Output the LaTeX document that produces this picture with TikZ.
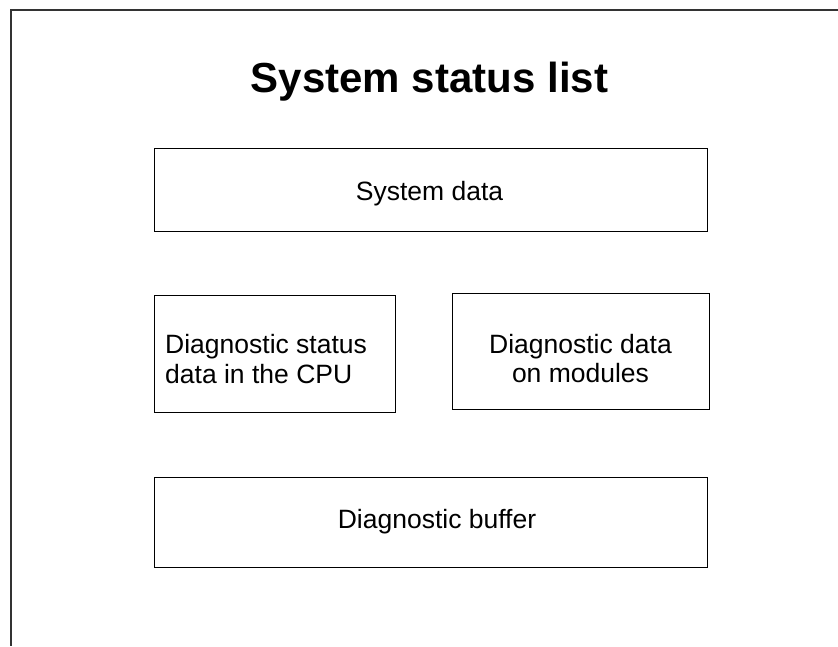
\documentclass[tikz,border=0pt]{standalone}
\usepackage{fontspec}
\setmainfont{Liberation Sans}
\begin{document}
\begin{tikzpicture}[x=1pt,y=-1pt,
  box/.style={draw=black, line width=1pt, inner sep=0pt, outer sep=0pt},
  bodytext/.style={inner sep=0pt, anchor=base, font=\fontsize{26.5}{30}\selectfont},
  titletext/.style={inner sep=0pt, anchor=base, font=\fontsize{42}{50}\selectfont\bfseries}]
\useasboundingbox (0,0) rectangle (838,646);
% outer frame
\coordinate (ftl) at (11,10);
\coordinate (ftr) at (838,10);
\coordinate (fbl) at (11,646);
\draw[line width=1.3pt, black!80] (ftr) -- (ftl) -- (fbl);
% title
\node[titletext] (title) at (429.5,92) {System status list};
% boxes
\node[box, minimum width=553pt, minimum height=83pt] (sysdata) at (430.5,189.5) {};
\node[box, minimum width=241pt, minimum height=117pt] (cpu) at (274.5,353.5) {};
\node[box, minimum width=257pt, minimum height=116pt] (mods) at (580.5,351) {};
\node[box, minimum width=553pt, minimum height=90pt] (buffer) at (430.5,522) {};
% texts
\node[bodytext] (t1) at (429.5,200) {System data};
\node[bodytext, anchor=base west] (t2a) at (165,353) {Diagnostic status};
\node[bodytext, anchor=base west] (t2b) at (165,383) {data in the CPU};
\node[bodytext] (t3a) at (580.5,353) {Diagnostic data};
\node[bodytext] (t3b) at (580.5,382) {on modules};
\node[bodytext] (t4) at (437,528) {Diagnostic buffer};
\end{tikzpicture}
\end{document}
